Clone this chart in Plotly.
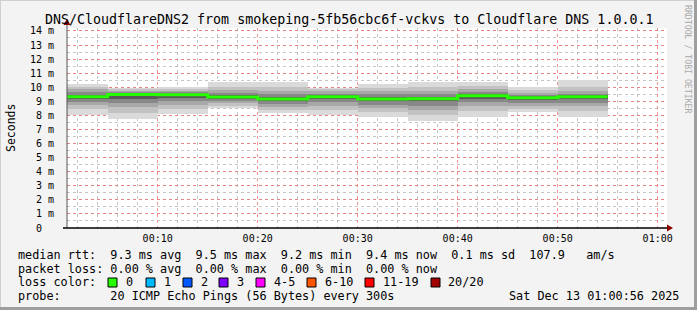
import plotly.graph_objects as go

# ---------------- data ----------------
boundaries = ["2025-12-13 00:00:00", "2025-12-13 00:05:00", "2025-12-13 00:10:00",
              "2025-12-13 00:15:00", "2025-12-13 00:20:00", "2025-12-13 00:25:00",
              "2025-12-13 00:30:00", "2025-12-13 00:35:00", "2025-12-13 00:40:00",
              "2025-12-13 00:45:00", "2025-12-13 00:50:00", "2025-12-13 00:55:00"]
median_ms = [9.32, 9.48, 9.47, 9.30, 9.17, 9.33, 9.17, 9.18, 9.40, 9.26, 9.33]
hi1 = [10.25, 9.95, 10.05, 10.38, 10.40, 9.95, 10.25, 10.35, 10.35, 10.04, 10.52]
hi2 = [10.05, 9.85, 9.90, 10.05, 10.00, 9.85, 9.95, 10.00, 10.10, 9.80, 10.00]
hi3 = [9.85, 9.75, 9.75, 9.80, 9.70, 9.70, 9.75, 9.75, 9.85, 9.60, 9.75]
hi4 = [9.65, 9.65, 9.65, 9.60, 9.50, 9.55, 9.50, 9.50, 9.65, 9.45, 9.55]
hi5 = [9.45, 9.56, 9.55, 9.42, 9.30, 9.43, 9.30, 9.30, 9.50, 9.35, 9.43]
lo5 = [9.15, 9.20, 9.25, 9.15, 9.00, 9.15, 9.00, 9.00, 9.20, 9.10, 9.15]
lo4 = [8.95, 8.90, 9.00, 9.00, 8.80, 8.95, 8.75, 8.70, 8.95, 8.90, 8.90]
lo3 = [8.75, 8.60, 8.75, 8.85, 8.60, 8.70, 8.50, 8.40, 8.65, 8.70, 8.65]
lo2 = [8.45, 8.20, 8.45, 8.70, 8.40, 8.40, 8.25, 8.05, 8.30, 8.45, 8.30]
lo1 = [8.05, 7.72, 8.12, 8.50, 8.15, 8.05, 7.90, 7.63, 7.90, 8.22, 7.92]

y_ticks = list(range(0, 15))
y_ticktext = ["0  "] + [f"{i} m" for i in range(1, 15)]

loss_labels = ["0", "1", "2", "3", "4-5", "6-10", "11-19", "20/20"]
loss_colors = ["#26ff00", "#00b8ff", "#0059ff", "#7e00ff", "#ff00ff", "#ff5500", "#ff0000", "#a10000"]

title = "DNS/CloudflareDNS2 from smokeping-5fb56cbc6f-vckvs to Cloudflare DNS 1.0.0.1"
legend_lines = [
    "median rtt:  9.3 ms avg  9.5 ms max  9.2 ms min  9.4 ms now  0.1 ms sd  107.9   am/s",
    "packet loss: 0.00 % avg  0.00 % max  0.00 % min  0.00 % now",
    "loss color:",
    "probe:       20 ICMP Echo Pings (56 Bytes) every 300s",
]
date_text = "Sat Dec 13 01:00:56 2025"

# ---------------- layout geometry ----------------
W, H = 697, 310
L, R, T, B = 67, 30, 28, 82
PW, PH = W - L - R, H - T - B
FONT = "DejaVu Sans Mono"


def px(xp):
    return (xp - L) / PW


def py(yp):
    return (H - B - yp) / PH


def nb(s):
    return s.replace(" ", "\u00a0")


starts = boundaries[:-1]
seg_ms = 300000

fig = go.Figure()
bands = [(lo1, hi1, "#dadada"), (lo2, hi2, "#c2c2c2"), (lo3, hi3, "#a8a8a8"),
         (lo4, hi4, "#888888"), (lo5, hi5, "#585858")]
for lo, hi, col in bands:
    fig.add_trace(go.Bar(x=starts, y=[h - l for l, h in zip(lo, hi)], base=lo,
                         offset=0, width=seg_ms, marker=dict(color=col, line=dict(width=0)),
                         hoverinfo="skip", showlegend=False))

fig.add_trace(go.Scatter(x=boundaries, y=median_ms + [median_ms[-1]], mode="lines",
                         line=dict(color="#26ff00", width=3, shape="hv"),
                         showlegend=False, hoverinfo="skip"))

MAJOR = "rgba(240,110,110,0.75)"
MINOR = "rgba(160,160,160,0.6)"
fig.update_layout(
    width=W, height=H, margin=dict(l=L, r=R, t=T, b=B),
    paper_bgcolor="#f3f3f3", plot_bgcolor="#ffffff",
    barmode="overlay", bargap=0,
    font=dict(family=FONT, size=10, color="#000000"),
    showlegend=False,
)
fig.update_xaxes(
    type="date", range=["2025-12-13 00:00:56", "2025-12-13 01:00:56"],
    tick0="2025-12-13 00:00:00", dtick=600000, tickformat="%H:%M",
    showgrid=True, gridcolor=MAJOR, griddash="dot", gridwidth=1,
    minor=dict(dtick=120000, tick0="2025-12-13 00:00:00", showgrid=True,
               gridcolor=MINOR, griddash="dot", gridwidth=1),
    ticks="outside", ticklen=1, tickcolor="rgba(0,0,0,0)",
    showline=False, zeroline=False,
    tickfont=dict(family=FONT, size=10, color="#000000"),
)
fig.update_yaxes(
    range=[0, 14.21], tickvals=y_ticks, ticktext=[nb(t) for t in y_ticktext],
    showgrid=True, gridcolor=MAJOR, griddash="dot", gridwidth=1,
    minor=dict(dtick=0.5, showgrid=True, gridcolor=MINOR,
               griddash="dot", gridwidth=1),
    ticks="outside", ticklen=10, tickcolor="rgba(0,0,0,0)",
    showline=False, zeroline=False,
    tickfont=dict(family=FONT, size=10, color="#000000"),
)

shapes = []
# axes lines with arrows
shapes.append(dict(type="line", xref="paper", yref="paper", x0=px(67), x1=px(67),
                   y0=py(228), y1=py(22), line=dict(color="#555555", width=1)))
shapes.append(dict(type="line", xref="paper", yref="paper", x0=px(63), x1=px(670),
                   y0=py(228), y1=py(228), line=dict(color="#000000", width=1.5)))
shapes.append(dict(type="path", xref="paper", yref="paper",
                   path=f"M {px(63.5)},{py(25)} L {px(70.5)},{py(25)} L {px(67)},{py(19)} Z",
                   fillcolor="#8b0000", line=dict(width=0)))
shapes.append(dict(type="path", xref="paper", yref="paper",
                   path=f"M {px(667)},{py(224.5)} L {px(667)},{py(231.5)} L {px(673)},{py(228)} Z",
                   fillcolor="#8b0000", line=dict(width=0)))
# frame
shapes.append(dict(type="line", xref="paper", yref="paper", x0=px(0), x1=px(697),
                   y0=py(308.5), y1=py(308.5), line=dict(color="#9e9e9e", width=3)))
shapes.append(dict(type="line", xref="paper", yref="paper", x0=px(695.5), x1=px(695.5),
                   y0=py(0), y1=py(310), line=dict(color="#9e9e9e", width=3)))
shapes.append(dict(type="line", xref="paper", yref="paper", x0=px(0), x1=px(694),
                   y0=py(0.5), y1=py(0.5), line=dict(color="#d0d0d0", width=1)))
shapes.append(dict(type="line", xref="paper", yref="paper", x0=px(0.5), x1=px(0.5),
                   y0=py(0), y1=py(307), line=dict(color="#d0d0d0", width=1)))

annotations = []
annotations.append(dict(text=nb(title), xref="paper", yref="paper", x=px(348.5), y=py(19),
                        xanchor="center", yanchor="middle", showarrow=False,
                        font=dict(family=FONT, size=13.3, color="#000000")))
annotations.append(dict(text="Seconds", xref="paper", yref="paper", x=px(11), y=py(128),
                        xanchor="center", yanchor="middle", textangle=-90, showarrow=False,
                        font=dict(family=FONT, size=11.5, color="#000000")))
annotations.append(dict(text=nb("RRDTOOL / TOBI OETIKER"), xref="paper", yref="paper",
                        x=px(688), y=py(59), xanchor="center", yanchor="middle",
                        textangle=90, showarrow=False,
                        font=dict(family=FONT, size=8.2, color="#aaaaaa")))
line_y = [255, 268.5, 282.3, 296]
for txt, yy in zip(legend_lines, line_y):
    annotations.append(dict(text=nb(txt), xref="paper", yref="paper", x=px(15.5), y=py(yy),
                            xanchor="left", yanchor="middle", showarrow=False,
                            font=dict(family=FONT, size=11.8, color="#000000")))
annotations.append(dict(text=nb(date_text), xref="paper", yref="paper", x=px(681), y=py(296),
                        xanchor="right", yanchor="middle", showarrow=False,
                        font=dict(family=FONT, size=11.8, color="#000000")))

box_x = [108, 146, 183, 219, 256, 307, 365, 431]
for bx, lab, col in zip(box_x, loss_labels, loss_colors):
    shapes.append(dict(type="rect", xref="paper", yref="paper", x0=px(bx), x1=px(bx + 9),
                       y0=py(278), y1=py(287), fillcolor=col,
                       line=dict(color="#000000", width=1)))
    annotations.append(dict(text=nb(lab), xref="paper", yref="paper", x=px(bx + 15.5), y=py(282.3),
                            xanchor="left", yanchor="middle", showarrow=False,
                            font=dict(family=FONT, size=11.8, color="#000000")))

fig.update_layout(shapes=shapes, annotations=annotations)
fig.write_html("out.html")
